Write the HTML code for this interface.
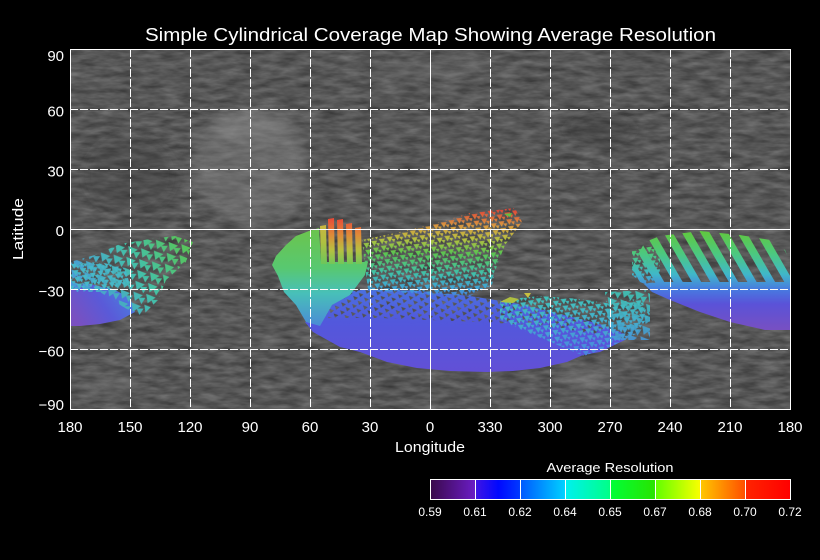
<!DOCTYPE html>
<html><head><meta charset="utf-8"><style>
html,body{margin:0;padding:0;background:#000;}
svg{display:block;}
text{font-family:"Liberation Sans",sans-serif;fill:#fff;}
</style></head><body>
<svg width="820" height="560" viewBox="0 0 820 560" xmlns="http://www.w3.org/2000/svg">
<defs>
<filter id="noise" x="0" y="0" width="100%" height="100%" color-interpolation-filters="sRGB">
<feTurbulence type="fractalNoise" baseFrequency="0.05 0.18" numOctaves="3" seed="7" result="t"/>
<feColorMatrix in="t" type="matrix" values="0.28 0 0 0 0.2  0.28 0 0 0 0.2  0.28 0 0 0 0.2  0 0 0 0 1"/>
</filter>
<filter id="blur4"><feGaussianBlur stdDeviation="6"/></filter>
<pattern id="ps" width="8" height="7" patternUnits="userSpaceOnUse" patternTransform="rotate(-15)"><polygon points="0,0 6,1 2,6" fill="#fff"/><polygon points="4,3 8,4 6,7" fill="#fff"/></pattern>
<pattern id="pb" width="13" height="11" patternUnits="userSpaceOnUse" patternTransform="rotate(10)"><polygon points="0,0 10,2 3,9" fill="#fff"/><polygon points="6,5 13,4 10,11" fill="#fff"/></pattern>
<pattern id="pgap" width="11" height="8" patternUnits="userSpaceOnUse" patternTransform="rotate(8)"><rect width="11" height="8" fill="#fff"/><polygon points="0,0 5,1 2,4" fill="#000"/><polygon points="6,4 11,5 8,8" fill="#000"/></pattern>
<pattern id="pst" width="16" height="20" patternUnits="userSpaceOnUse" patternTransform="translate(640,0) rotate(-30)"><rect x="0" y="0" width="8" height="20" fill="#fff"/></pattern>
<mask id="ms" maskUnits="userSpaceOnUse" x="0" y="0" width="820" height="560"><rect width="820" height="560" fill="url(#ps)"/></mask>
<mask id="mb" maskUnits="userSpaceOnUse" x="0" y="0" width="820" height="560"><rect width="820" height="560" fill="url(#pb)"/></mask>
<mask id="mg" maskUnits="userSpaceOnUse" x="0" y="0" width="820" height="560"><rect width="820" height="560" fill="url(#pgap)"/></mask>
<mask id="mst" maskUnits="userSpaceOnUse" x="0" y="0" width="820" height="560"><rect width="820" height="560" fill="url(#pst)"/></mask>

<linearGradient id="cb" gradientUnits="userSpaceOnUse" x1="430" y1="0" x2="790" y2="0">
<stop offset="0" stop-color="#3a0a4a"/><stop offset="0.124" stop-color="#6a1cc4"/>
<stop offset="0.126" stop-color="#4014e4"/><stop offset="0.19" stop-color="#0008ff"/><stop offset="0.249" stop-color="#0038ff"/>
<stop offset="0.251" stop-color="#0058ff"/><stop offset="0.374" stop-color="#00d0ff"/>
<stop offset="0.376" stop-color="#00f0f0"/><stop offset="0.499" stop-color="#00ff88"/>
<stop offset="0.501" stop-color="#00ff38"/><stop offset="0.624" stop-color="#28e400"/>
<stop offset="0.626" stop-color="#60ff00"/><stop offset="0.749" stop-color="#f8ff00"/>
<stop offset="0.751" stop-color="#ffc800"/><stop offset="0.874" stop-color="#ff5000"/>
<stop offset="0.876" stop-color="#ff2400"/><stop offset="1" stop-color="#ff0000"/>
</linearGradient>

<linearGradient id="gG" gradientUnits="userSpaceOnUse" x1="0" y1="228" x2="0" y2="328">
<stop offset="0" stop-color="#6cc44c"/><stop offset="0.4" stop-color="#58c870"/><stop offset="0.65" stop-color="#48c0b8"/><stop offset="1" stop-color="#4a88d8"/>
</linearGradient>
<linearGradient id="gB" gradientUnits="userSpaceOnUse" x1="0" y1="288" x2="0" y2="372">
<stop offset="0" stop-color="#4a72e0"/><stop offset="0.4" stop-color="#5258dc"/><stop offset="1" stop-color="#6250d6"/>
</linearGradient>
<linearGradient id="gS" gradientUnits="userSpaceOnUse" x1="0" y1="210" x2="0" y2="300">
<stop offset="0" stop-color="#e04838"/><stop offset="0.18" stop-color="#d89a40"/><stop offset="0.32" stop-color="#b8c040"/><stop offset="0.48" stop-color="#5cc450"/><stop offset="0.7" stop-color="#40c0a8"/><stop offset="0.88" stop-color="#40a0d8"/><stop offset="1" stop-color="#4a6ee0"/>
</linearGradient>
<linearGradient id="gT" gradientUnits="userSpaceOnUse" x1="0" y1="295" x2="0" y2="355">
<stop offset="0" stop-color="#40c4b8"/><stop offset="0.5" stop-color="#44aad0"/><stop offset="1" stop-color="#4a84e0"/>
</linearGradient>
<linearGradient id="gR" gradientUnits="userSpaceOnUse" x1="0" y1="232" x2="0" y2="332">
<stop offset="0" stop-color="#60c840"/><stop offset="0.22" stop-color="#4cc880"/><stop offset="0.42" stop-color="#40b8c8"/><stop offset="0.58" stop-color="#4878e0"/><stop offset="0.72" stop-color="#5a52d8"/><stop offset="1" stop-color="#7a50c0"/>
</linearGradient>
<linearGradient id="gRed" gradientUnits="userSpaceOnUse" x1="0" y1="216" x2="0" y2="268">
<stop offset="0" stop-color="#e84038"/><stop offset="0.35" stop-color="#e08838"/><stop offset="0.65" stop-color="#b8c040"/><stop offset="1" stop-color="#60c860"/>
</linearGradient>
<linearGradient id="gYel" gradientUnits="userSpaceOnUse" x1="0" y1="216" x2="0" y2="268">
<stop offset="0" stop-color="#d8b040"/><stop offset="0.5" stop-color="#b0c040"/><stop offset="1" stop-color="#60c860"/>
</linearGradient>
<linearGradient id="gL" gradientUnits="userSpaceOnUse" x1="185" y1="240" x2="80" y2="300">
<stop offset="0" stop-color="#58c458"/><stop offset="0.45" stop-color="#44c0a8"/><stop offset="1" stop-color="#4a98dc"/>
</linearGradient>
<linearGradient id="gLB" gradientUnits="userSpaceOnUse" x1="130" y1="288" x2="78" y2="324">
<stop offset="0" stop-color="#4a80e0"/><stop offset="0.5" stop-color="#5a5ad8"/><stop offset="1" stop-color="#7a50c0"/>
</linearGradient>
</defs>

<!-- map background -->
<rect x="70" y="49" width="720" height="360" fill="#585858"/>
<rect x="70" y="49" width="720" height="360" filter="url(#noise)"/>
<g filter="url(#blur4)">
<ellipse cx="250" cy="165" rx="58" ry="58" fill="#8a8a8a" opacity="0.4"/>
<ellipse cx="250" cy="128" rx="40" ry="10" fill="#9a9a9a" opacity="0.35"/>
<ellipse cx="130" cy="175" rx="45" ry="40" fill="#3a3a3a" opacity="0.3"/>
<ellipse cx="600" cy="130" rx="35" ry="12" fill="#2e2e2e" opacity="0.4"/>
<ellipse cx="590" cy="378" rx="30" ry="8" fill="#9a9a9a" opacity="0.4"/>
<ellipse cx="430" cy="70" rx="60" ry="8" fill="#7a7a7a" opacity="0.35"/>
<ellipse cx="110" cy="385" rx="30" ry="6" fill="#8a8a8a" opacity="0.35"/>
</g>

<!-- left region -->
<polygon points="70,286 90,284 115,290 130,298 135,312 120,320 100,324 80,326 70,326" fill="url(#gLB)"/>
<polygon points="70,262 95,255 120,244 150,239 175,236 193,242 186,262 166,280 158,300 142,316 125,308 100,292 70,292" fill="url(#gL)" mask="url(#mb)"/>
<polygon points="70,264 100,262 125,268 130,285 100,290 70,290" fill="#46b8c8" mask="url(#ms)"/>

<!-- central blue band -->
<polygon points="305,322 330,318 380,318 430,320 480,322 530,325 570,330 610,336 625,340 600,352 583,355 567,362 540,368 513,371 487,372 450,371 417,368 387,362 360,352 340,347 313,332" fill="url(#gB)"/>
<polygon points="300,300 330,294 370,289 420,291 470,296 520,304 560,314 600,324 625,334 610,340 560,332 500,326 440,324 380,322 320,324" fill="url(#gB)" mask="url(#mg)"/>
<!-- tail scattered -->
<polygon points="500,300 540,296 580,299 612,304 640,298 650,314 636,334 612,346 584,356 560,346 522,330 500,320" fill="url(#gT)" mask="url(#ms)"/>
<!-- upper scattered fan -->
<polygon points="362,240 400,232 440,222 470,213 515,208 522,222 505,245 497,265 492,285 470,296 420,294 368,290" fill="url(#gS)" mask="url(#ms)"/>
<!-- left solid green/cyan -->
<polygon points="286,245 296,236 309,231 319,228 321,262 368,262 365,275 350,295 332,305 320,326 306,322 296,305 284,292 278,276 272,265 276,256" fill="url(#gG)"/>
<!-- streaks -->
<polygon points="320,226 326,225 327,264 321,264" fill="url(#gYel)"/>
<polygon points="328,219 334,218 335,264 329,264" fill="url(#gRed)"/>
<polygon points="337,220 343,219 344,264 338,264" fill="url(#gRed)"/>
<polygon points="346,224 352,223 353,264 347,264" fill="url(#gRed)"/>
<polygon points="355,228 361,227 362,264 356,264" fill="url(#gRed)"/>
<!-- small spots -->
<polygon points="500,302 510,297 519,299 513,303" fill="#b0c040"/>
<polygon points="524,293 531,293 528,298" fill="#c8c040"/>
<polygon points="504,214 512,213 510,217" fill="#60c040"/>

<!-- right region -->
<polygon points="644,284 660,282 700,282 740,282 790,282 790,330 765,330 730,322 700,312 670,300 652,292" fill="url(#gR)"/>
<polygon points="636,258 645,242 660,236 700,231 740,235 770,240 785,250 790,262 790,286 700,286 650,286 640,282 632,268" fill="url(#gR)" mask="url(#mst)"/>
<polygon points="632,250 660,245 660,285 645,285 632,275" fill="url(#gR)" mask="url(#ms)"/>
<polygon points="605,292 650,290 650,340 610,340" fill="url(#gT)" mask="url(#mb)" opacity="0.9"/>

<!-- grid -->
<g stroke="#fff" stroke-width="1" fill="none">
<g stroke-dasharray="8 2">
<line x1="130.5" y1="49" x2="130.5" y2="409"/>
<line x1="190.5" y1="49" x2="190.5" y2="409"/>
<line x1="250.5" y1="49" x2="250.5" y2="409"/>
<line x1="310.5" y1="49" x2="310.5" y2="409"/>
<line x1="370.5" y1="49" x2="370.5" y2="409"/>
<line x1="490.5" y1="49" x2="490.5" y2="409"/>
<line x1="550.5" y1="49" x2="550.5" y2="409"/>
<line x1="610.5" y1="49" x2="610.5" y2="409"/>
<line x1="670.5" y1="49" x2="670.5" y2="409"/>
<line x1="730.5" y1="49" x2="730.5" y2="409"/>
<line x1="70" y1="109.5" x2="790" y2="109.5"/>
<line x1="70" y1="169.5" x2="790" y2="169.5"/>
<line x1="70" y1="289.5" x2="790" y2="289.5"/>
<line x1="70" y1="349.5" x2="790" y2="349.5"/>
</g>
<line x1="430.5" y1="49" x2="430.5" y2="409"/>
<line x1="70" y1="229.5" x2="790" y2="229.5"/>
<rect x="70.5" y="49.5" width="720" height="360"/>
</g>

<!-- title -->
<text x="145" y="41" font-size="18" textLength="571" lengthAdjust="spacingAndGlyphs">Simple Cylindrical Coverage Map Showing Average Resolution</text>

<!-- y tick labels -->
<g font-size="15" text-anchor="end">
<text x="64" y="61">90</text>
<text x="64" y="116.5">60</text>
<text x="64" y="176.5">30</text>
<text x="64" y="236">0</text>
<text x="64" y="296.5">−30</text>
<text x="64" y="356.5">−60</text>
<text x="64" y="410">−90</text>
</g>
<!-- x tick labels -->
<g font-size="15" text-anchor="middle">
<text x="70" y="432">180</text>
<text x="130" y="432">150</text>
<text x="190" y="432">120</text>
<text x="250" y="432">90</text>
<text x="310" y="432">60</text>
<text x="370" y="432">30</text>
<text x="430" y="432">0</text>
<text x="490" y="432">330</text>
<text x="550" y="432">300</text>
<text x="610" y="432">270</text>
<text x="670" y="432">240</text>
<text x="730" y="432">210</text>
<text x="790" y="432">180</text>
</g>
<text x="430" y="452" font-size="15" text-anchor="middle" textLength="70" lengthAdjust="spacingAndGlyphs">Longitude</text>
<text transform="translate(23,229) rotate(-90)" font-size="15" text-anchor="middle" textLength="62" lengthAdjust="spacingAndGlyphs">Latitude</text>

<!-- colorbar -->
<text x="610" y="472" font-size="13" text-anchor="middle" textLength="127" lengthAdjust="spacingAndGlyphs">Average Resolution</text>
<rect x="430" y="479" width="360" height="20" fill="url(#cb)"/>
<g stroke="#fff" stroke-width="1">
<line x1="475.5" y1="479" x2="475.5" y2="499"/>
<line x1="520.5" y1="479" x2="520.5" y2="499"/>
<line x1="565.5" y1="479" x2="565.5" y2="499"/>
<line x1="610.5" y1="479" x2="610.5" y2="499"/>
<line x1="655.5" y1="479" x2="655.5" y2="499"/>
<line x1="700.5" y1="479" x2="700.5" y2="499"/>
<line x1="745.5" y1="479" x2="745.5" y2="499"/>
</g>
<rect x="430.5" y="479.5" width="360" height="20" fill="none" stroke="#fff" stroke-width="1"/>
<g font-size="12" text-anchor="middle">
<text x="430" y="516">0.59</text>
<text x="475" y="516">0.61</text>
<text x="520" y="516">0.62</text>
<text x="565" y="516">0.64</text>
<text x="610" y="516">0.65</text>
<text x="655" y="516">0.67</text>
<text x="700" y="516">0.68</text>
<text x="745" y="516">0.70</text>
<text x="790" y="516">0.72</text>
</g>
</svg>
</body></html>
